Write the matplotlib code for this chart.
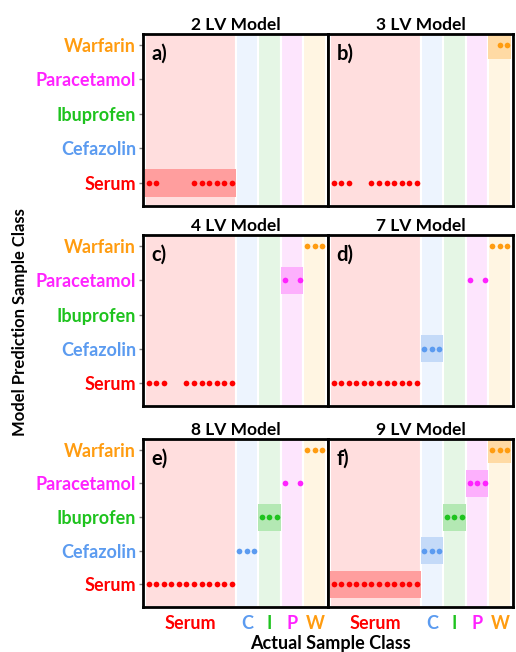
import matplotlib
matplotlib.use('Agg')
import matplotlib.pyplot as plt
from matplotlib.patches import Rectangle

plt.rcParams['font.family'] = ['Lato', 'DejaVu Sans']
plt.rcParams['font.weight'] = 'bold'

# classes (y rows, bottom to top)
classes = ['Serum', 'Cefazolin', 'Ibuprofen', 'Paracetamol', 'Warfarin']
short_labels = ['Serum', 'C', 'I', 'P', 'W']
n_per_class = [12, 3, 3, 3, 3]

# predicted class index of each sample, -1 = not assigned
pred_2lv = [0, 0, -1, -1, -1, -1, 0, 0, 0, 0, 0, 0,
            -1, -1, -1, -1, -1, -1, -1, -1, -1, -1, -1, -1]
pred_3lv = [0, 0, 0, -1, -1, 0, 0, 0, 0, 0, 0, 0,
            -1, -1, -1, -1, -1, -1, -1, -1, -1, -1, 4, 4]
pred_4lv = [0, 0, 0, -1, -1, 0, 0, 0, 0, 0, 0, 0,
            -1, -1, -1, -1, -1, -1, 3, -1, 3, 4, 4, 4]
pred_7lv = [0, 0, 0, 0, 0, 0, 0, 0, 0, 0, 0, 0,
            1, 1, 1, -1, -1, -1, 3, -1, 3, 4, 4, 4]
pred_8lv = [0, 0, 0, 0, 0, 0, 0, 0, 0, 0, 0, 0,
            1, 1, 1, 2, 2, 2, 3, -1, 3, 4, 4, 4]
pred_9lv = [0, 0, 0, 0, 0, 0, 0, 0, 0, 0, 0, 0,
            1, 1, 1, 2, 2, 2, 3, 3, 3, 4, 4, 4]

titles = ['2 LV Model', '3 LV Model', '4 LV Model', '7 LV Model', '8 LV Model', '9 LV Model']
letters = ['a)', 'b)', 'c)', 'd)', 'e)', 'f)']
predictions = [pred_2lv, pred_3lv, pred_4lv, pred_7lv, pred_8lv, pred_9lv]
highlights = [[0], [4], [3], [1], [2], [0, 1, 2, 3, 4]]

class_colors = ['#ff0000', '#5b9bf0', '#1ec31e', '#ff22ff', '#ff9c10']
band_colors = ['#ffdede', '#edf4fe', '#e5f6e5', '#fde5fd', '#fff5e2']
hl_colors = ['#ff9e9e', '#c4daf8', '#b3e8b3', '#fdb0fd', '#ffdaa4']

W, H = 516, 652
fig = plt.figure(figsize=(W / 100, H / 100), dpi=100)

col_x = [143, 328]
col_w = 185
row_y = [(34, 206), (235, 406), (439, 607)]

# band edges for each class
edges = [-0.5]
for n in n_per_class:
    edges.append(edges[-1] + n)

for i in range(6):
    r, c = divmod(i, 2)
    top, bot = row_y[r]
    ax = fig.add_axes([col_x[c] / W, 1 - bot / H, col_w / W, (bot - top) / H])
    ax.set_xlim(-0.75, 23.75)
    ax.set_ylim(-0.67, 4.32)

    for k in range(5):
        ax.axvspan(edges[k], edges[k + 1], color=band_colors[k], ec='white', lw=1.5, zorder=0)
    for k in highlights[i]:
        ax.add_patch(Rectangle((edges[k], k - 0.4), edges[k + 1] - edges[k], 0.8,
                               facecolor=hl_colors[k], edgecolor='none', zorder=1))

    preds = predictions[i]
    for k in range(5):
        xs = [s for s, p in enumerate(preds) if p == k]
        ax.plot(xs, [k] * len(xs), 'o', color=class_colors[k], ms=4.1, mew=0, zorder=3)

    ax.text(0.045, 0.885, letters[i], transform=ax.transAxes, fontsize=14.5,
            fontweight='bold', va='center', ha='left')
    ax.set_title(titles[i], fontsize=12.5, fontweight='bold', pad=3)

    for sp in ax.spines.values():
        sp.set_linewidth(2)
        sp.set_zorder(5)

    ax.set_yticks(range(5))
    if c == 0:
        ax.set_yticklabels(classes, fontsize=13, fontweight='bold')
        for lbl, col in zip(ax.get_yticklabels(), class_colors):
            lbl.set_color(col)
        ax.tick_params(axis='y', length=3, color='gray', width=1, pad=2)
    else:
        ax.set_yticklabels([])
        ax.tick_params(axis='y', length=0)

    centers = [(edges[k] + edges[k + 1]) / 2 for k in range(5)]
    ax.set_xticks(centers)
    if r == 2:
        ax.set_xticklabels(short_labels, fontsize=13, fontweight='bold')
        for lbl, col in zip(ax.get_xticklabels(), class_colors):
            lbl.set_color(col)
        ax.tick_params(axis='x', length=0, pad=6)
    else:
        ax.set_xticklabels([])
        ax.tick_params(axis='x', length=0)

fig.text(330 / W, 1 - 644 / H, 'Actual Sample Class', ha='center', va='center',
         fontsize=13, fontweight='bold')
fig.text(20 / W, 1 - 322 / H, 'Model Prediction Sample Class', ha='center', va='center',
         rotation=90, fontsize=12, fontweight='bold')

fig.savefig('out.png', dpi=100)
